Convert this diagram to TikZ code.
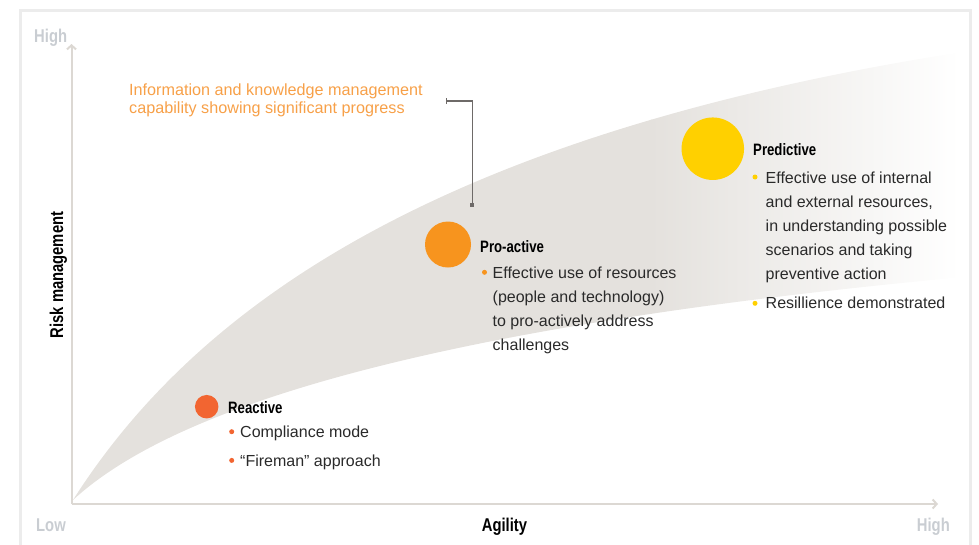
\documentclass[tikz,border=0pt]{standalone}
\usepackage{fontspec}
\setmainfont{Liberation Sans}
\newfontfamily\condbf{Liberation Sans}[FakeStretch=0.8]
\usepackage{tikz}
\usetikzlibrary{
  arrows.meta,
  positioning
}
\definecolor{reactred}{RGB}{242,101,49}
\definecolor{proorange}{RGB}{247,148,30}
\definecolor{predyellow}{RGB}{255,208,0}
\definecolor{noteorange}{RGB}{247,160,72}
\definecolor{axisgray}{RGB}{220,216,211}
\definecolor{labelgray}{RGB}{201,205,210}
\definecolor{framegray}{RGB}{236,236,236}
\definecolor{bandgray}{RGB}{228,225,221}
\definecolor{leadgray}{RGB}{110,106,104}
\definecolor{bodytext}{RGB}{42,42,42}

\begin{document}
\begin{tikzpicture}[x=1pt, y=-1pt,
  axis/.style={axisgray, line width=2pt, -{Straight Barb[length=4pt, width=9pt]}},
  axlabel/.style={font=\condbf\bfseries\fontsize{18.5}{20}\selectfont, inner sep=0pt},
  title/.style={font=\condbf\bfseries\fontsize{16.5}{18}\selectfont, anchor=base west, inner sep=0pt},
  body/.style={font=\fontsize{16}{24}\selectfont, text=bodytext, align=left, anchor=north west, inner sep=0pt},
  stage/.style={circle, inner sep=0pt},
  bullet/.style={circle, inner sep=0pt, minimum size=5pt}]
  \useasboundingbox (0,0) rectangle (979,544);

  % Frame
  \draw[framegray, line width=3pt] (20.5,546) -- (20.5,10.5) -- (970,10.5) -- (970,546);

  % Maturity band, fading out to the right
  \begin{scope}
    \clip (73,500) .. controls (200,300) and (450,130) .. (975,50)
      -- (975,276) .. controls (380,330) and (160,420) .. (73,500) -- cycle;
    \fill[bandgray] (60,40) rectangle (652,510);
    \shade[left color=bandgray, right color=white] (650,40) rectangle (960,510);
  \end{scope}

  % Axes
  \coordinate (origin) at (71.5,504);
  \coordinate (ytop) at (71.5,44);
  \coordinate (xend) at (938,504);
  \draw[axis] (origin) -- (ytop);
  \draw[axis] (origin) -- (xend);
  \node[axlabel, text=labelgray, anchor=base west] (yhigh) at (34,42.3) {High};
  \node[axlabel, text=labelgray, anchor=base west] (xlow) at (36,531.7) {Low};
  \node[axlabel, text=labelgray, anchor=base east] (xhigh) at (950,531.7) {High};
  \node[axlabel, anchor=base] (xname) at (504.5,531.7) {Agility};
  \node[axlabel, rotate=90, anchor=base] (yname) at (63,275) {Risk management};

  % Note on information management
  \node[body, text=noteorange, font=\fontsize{16.2}{18}\selectfont] (note) at (129,83.4)
    {Information and knowledge management\\capability showing significant progress};
  \coordinate (leadstart) at (446,101);
  \coordinate (leadend) at (472.3,207);
  \draw[leadgray, line width=1.2pt, {Bar[width=6pt]}-{Square[length=4pt, width=4pt]}]
    (leadstart) -| (leadend);

  % Reactive
  \node[stage, fill=reactred, minimum size=23.5pt] (reactdot) at (206.7,406.7) {};
  \node[title] (reacttitle) at (228,413.3) {Reactive};
  \node[bullet, fill=reactred] (reactb1) at (231.7,431.7) {};
  \node[body] (reacttext1) at (240,425.8) {Compliance mode};
  \node[bullet, fill=reactred] (reactb2) at (231.7,460.4) {};
  \node[body] (reacttext2) at (240,454.4) {“Fireman” approach};

  % Pro-active
  \node[stage, fill=proorange, minimum size=46pt] (prodot) at (448,244.5) {};
  \node[title] (protitle) at (480,252.3) {Pro-active};
  \node[bullet, fill=proorange] (prob1) at (484.5,272.3) {};
  \node[body] (protext1) at (492.5,266.6)
    {Effective use of resources\\(people and technology)\\to pro-actively address\\challenges};

  % Predictive
  \node[stage, fill=predyellow, minimum size=62.5pt] (preddot) at (712.8,148.7) {};
  \node[title] (predtitle) at (753,155.7) {Predictive};
  \node[bullet, fill=predyellow] (predb1) at (755,177) {};
  \node[body] (predtext1) at (765.5,171.7)
    {Effective use of internal\\and external resources,\\in understanding possible\\scenarios and taking\\preventive action};
  \node[bullet, fill=predyellow] (predb2) at (755,303.3) {};
  \node[body] (predtext2) at (765.5,296.8) {Resillience demonstrated};
\end{tikzpicture}
\end{document}
